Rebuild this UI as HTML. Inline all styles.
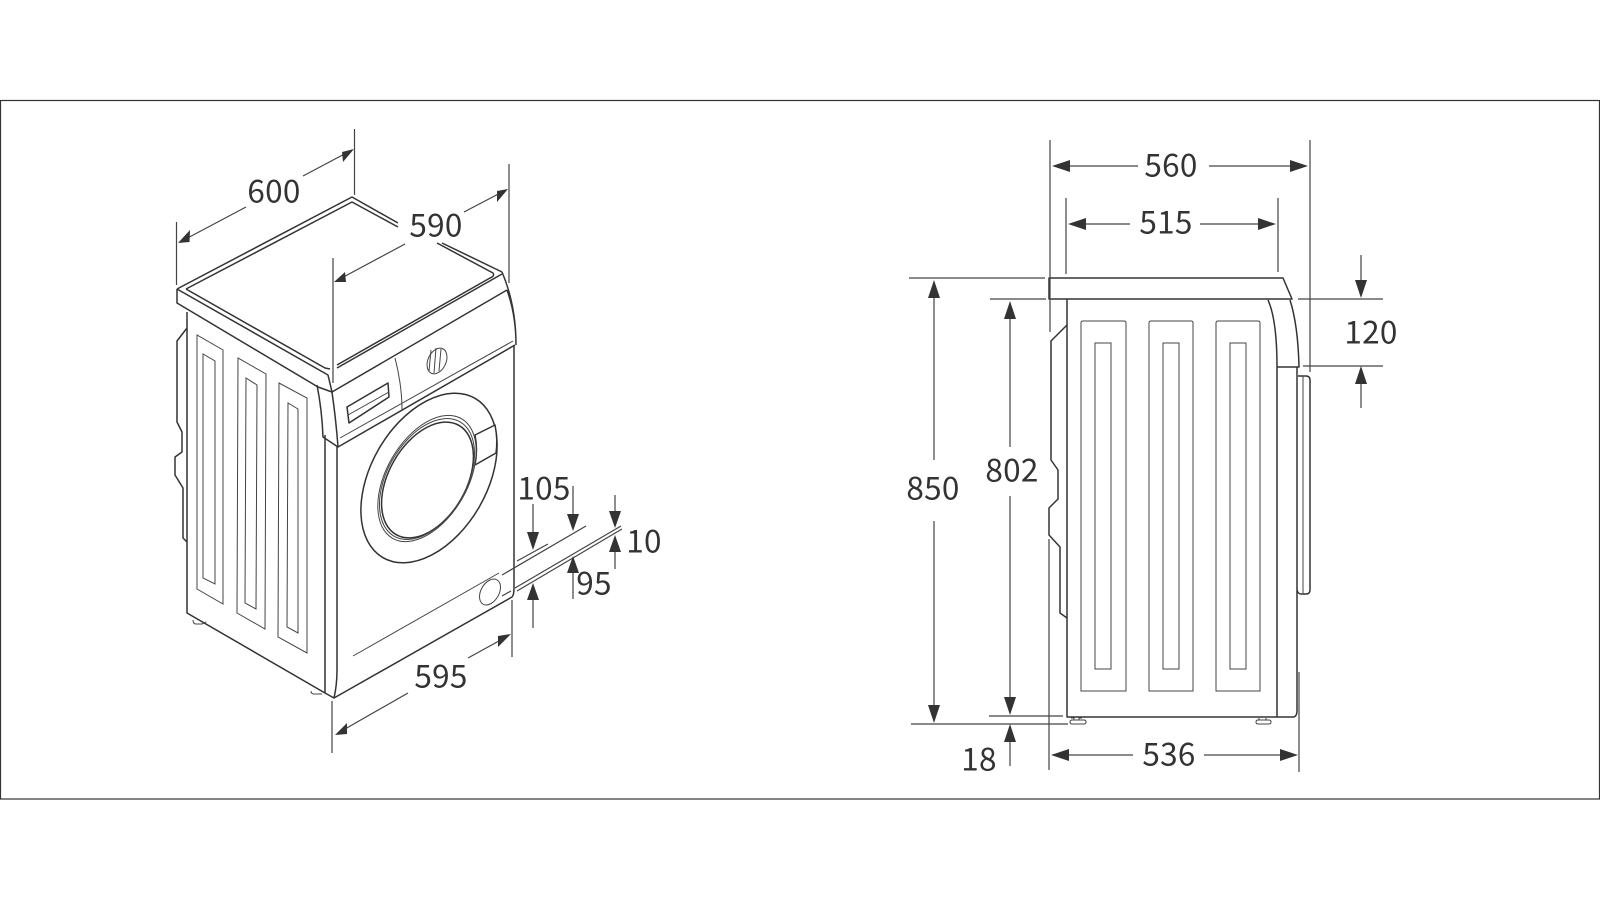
<!DOCTYPE html>
<html><head><meta charset="utf-8"><style>
html,body{margin:0;padding:0;background:#fff;width:1600px;height:900px;overflow:hidden}
svg{display:block}
text{font-family:"Noto Sans CJK JP","Liberation Sans",sans-serif;font-size:31.500px;fill:#333;text-anchor:middle;letter-spacing:.3px;font-weight:400}
.m{fill:none;stroke:#333;stroke-width:1.5;stroke-linejoin:round}
.t{fill:none;stroke:#444;stroke-width:1}
.d{fill:none;stroke:#444;stroke-width:1.2}
.a{fill:#333;stroke:none}
</style></head><body>
<svg width="1600" height="900" viewBox="0 0 1600 900" xmlns="http://www.w3.org/2000/svg">
<rect x="0.5" y="100.5" width="1599" height="698.5" fill="none" stroke="#333" stroke-width="1.2"/>

<!-- LEFT: machine -->
<g class="m">
<path d="M177 289L352 197L398 223M442 243L502 272M177 289L328 375L332 392M177 289V303L318 387L332 392L507 290M186 289L352 202L398 227M437 243L493 273Q495 276 490 278L337 365M186 289L325 368L330 369M337 368L502 274"/>
<path d="M502 272Q516 305 516 345M507 290Q516 315 516 345"/>
<path d="M332 392Q336 420 338 447L515 345M317 385Q322 410 323 437L338 447"/>
<path d="M325 435V693L334 698M337 447V670Q337 685 334 698L512 597Q514 595 514 588V345"/>
<path d="M187 312V613L325 693"/>
<path d="M187 328L177 341V422L182 432V452L175 457V475L183 488V538L187 542"/>
<path d="M347 407L388 383L389 397L349 423Z"/>
<ellipse cx="429" cy="478" rx="58" ry="92" transform="rotate(30 429 478)" fill="#fff"/>
<ellipse cx="427.500" cy="480" rx="38.600" ry="63" transform="rotate(30 427.500 480)"/>
<path d="M475 435L495 425Q498 440 496 453L475 465Q478 450 475 435Z" fill="#fff"/>
</g>
<g class="t">
<path d="M197 589V335L223 350V604Z"/><path d="M203 578V354L215 361V584Z"/>
<path d="M237 613L238 358L266 374L265 629Z"/><path d="M245 603L246 378L257 385L256 609Z"/>
<path d="M278 637L279 383L307 398V653Z"/><path d="M287 627L288 403L298 409V633Z"/>
<path d="M340 438L513 341M395 358Q402 385 402 410M348 415L389 392"/>
<ellipse cx="427" cy="478.500" rx="40.500" ry="69" transform="rotate(30 427 478.500)"/>
<ellipse cx="427" cy="479" rx="39.500" ry="66" transform="rotate(30 427 479)"/>
<path d="M353 656L499 573"/>
<ellipse cx="490" cy="592" rx="9" ry="14" transform="rotate(30 490 592)"/>
<ellipse cx="437" cy="361" rx="9" ry="13.500" transform="rotate(25 437 361)"/>
<path d="M431 350L429 371M436 348L434 373M441 349L439 371"/>
<path d="M193 620Q193 624 196 624H202L206 622M311 691Q311 694 314 694H322"/>
</g>

<!-- LEFT: dims -->
<g class="d">
<path d="M354.500 129V195M176.500 222V285M509 164V283M333 258V383M512 600V657M332 701V753"/>
<path d="M180 242L246 207M303 176L352 150M336 281L405 244M464 212L506 190M338 733L408 693M468 658L508 636"/>
<path d="M517 561L548 544M502 575L586 526M502 596L511 591M515 588L621 526M517 591L622 529"/>
<path d="M533 504V535M573 486V515M615 495V515M615 550V569M573 570V599M533 597V628"/>
</g>
<g class="a">
<path d="M178 243L190 230L189.500 242Z"/>
<path d="M354 149L342 152L343 162Z"/>
<path d="M334 282L345 272L346 282Z"/>
<path d="M508 189L497 191V202Z"/>
<path d="M335 735L347 723V734Z"/>
<path d="M511 634L498 636V647Z"/>
<path d="M533 550L527 532H539Z"/><path d="M573 531L567 514H579Z"/><path d="M615 528L609 511H621Z"/>
<path d="M615 535L609 552H621Z"/><path d="M573 556L567 573H579Z"/><path d="M533 583L527 600H539Z"/>
</g>
<text x="274" y="202.500">600</text>
<text x="436" y="236.500">590</text>
<text x="441" y="687.500">595</text>
<text x="544" y="499.500">105</text>
<text x="644" y="552.500">10</text>
<text x="594" y="594.500">95</text>

<!-- RIGHT: machine -->
<g class="m">
<path d="M1049 278H1283L1292 299H1049Z"/>
<path d="M1067 299V717H1293Q1297 717 1297 710V367"/>
<path d="M1268 300Q1277 320 1277 367V717M1277 367H1299Q1298 325 1290 300"/>
<path d="M1067 325L1051 341V460L1058 470V499L1049 508V535L1060 547V613L1067 618"/>
<path d="M1298 376H1306Q1310 376 1310 380V590Q1310 594 1306 594H1301Q1298 594 1297 590"/>
</g>
<g class="t">
<path d="M1081 691V323Q1081 321 1083 321H1124Q1126 321 1126 323V691Z"/><path d="M1095 669V343H1111V669Z"/>
<path d="M1149 691V323Q1149 321 1151 321H1191Q1193 321 1193 323V691Z"/><path d="M1163 669V343H1179V669Z"/>
<path d="M1216 691V323Q1216 321 1218 321H1258Q1260 321 1260 323V691Z"/><path d="M1230 669V343H1246V669Z"/>
<path d="M1303 376V594"/>
<path d="M1071 718H1074V720M1082 718H1079V720M1070 722Q1070 724 1072 724H1084Q1086 724 1086 722Q1086 720 1084 720H1072Q1070 720 1070 722Z"/>
<path d="M1256 722Q1256 724 1258 724H1269Q1271 724 1271 722Q1271 720 1269 720H1258Q1256 720 1256 722ZM1259 718V720M1266 718V720"/>
</g>
<!-- RIGHT: dims -->
<g class="d">
<path d="M1050 140V332M1310 140V372M1066 198V274M1278 198V272M1049 539V770M1299 672V772"/>
<path d="M1068 166H1138M1209 166H1292M1084 224H1130M1200 224H1260"/>
<path d="M909 278H1045M990 299H1046M911 724H1068M989 716H1063"/>
<path d="M1298 299H1383M1303 366H1383M1361 255V285M1361 380V408"/>
<path d="M934 294V460M934 521V705M1010 315V447M1010 496V700M1010 740V766"/>
<path d="M1068 755H1133M1204 755H1282"/>
</g>
<g class="a">
<path d="M1052 166L1070 160V172Z"/><path d="M1308 166L1290 160V172Z"/>
<path d="M1068 224L1086 218V230Z"/><path d="M1276 224L1258 218V230Z"/>
<path d="M1361 298L1355 280H1367Z"/><path d="M1361 366L1355 384H1367Z"/>
<path d="M934 280L928 298H940Z"/><path d="M934 723L928 705H940Z"/>
<path d="M1010 301L1004 319H1016Z"/><path d="M1010 715L1004 697H1016Z"/>
<path d="M1010 724L1004 742H1016Z"/>
<path d="M1051 755L1069 749V761Z"/><path d="M1298 755L1280 749V761Z"/>
</g>
<text x="1171" y="176.500">560</text>
<text x="1166" y="233.500">515</text>
<text x="1371" y="343.500">120</text>
<text x="933" y="499.500">850</text>
<text x="1012" y="481.500">802</text>
<text x="979" y="770.500">18</text>
<text x="1169" y="765.500">536</text>
</svg>
</body></html>
